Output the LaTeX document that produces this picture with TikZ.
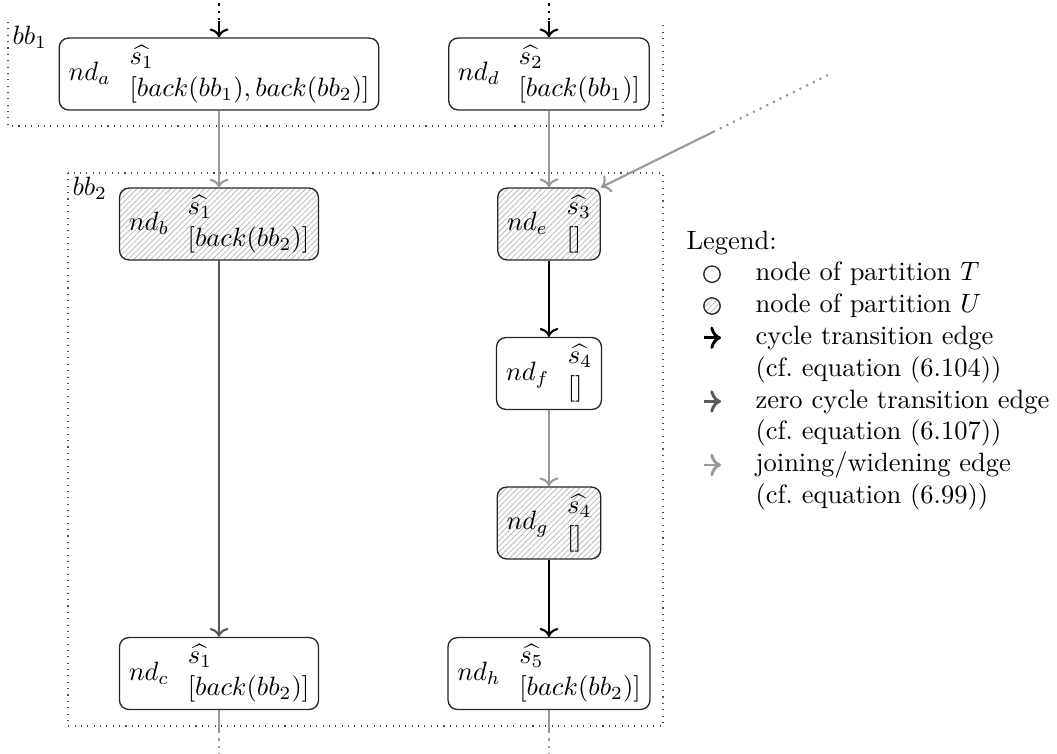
\documentclass[tikz,border=0pt]{standalone}
\usetikzlibrary{patterns.meta,arrows.meta}

% statement body: node name, state, list of back references
\newcommand{\ndbody}[3]{$#1\hspace{7pt}\vcenter{\hbox{$\widehat{#2}$}\hbox{$#3$}}$}

\tikzset{
  px/.style={x=0.3774pt,y=-0.3774pt},
  partT/.style={draw=black!85, line width=0.5pt, rounded corners=3.5pt,
                inner xsep=3.5pt, inner ysep=2.7pt},
  hatch/.style={pattern={Lines[angle=45,distance=1.5pt,line width=0.3pt]},
                pattern color=black!27},
  partU/.style={partT, hatch},
  cycedge/.style={draw=black, thick, ->},
  zeroedge/.style={draw=black!65, thick, ->},
  joinedge/.style={draw=black!40, thick, ->},
  contblack/.style={draw=black, thick, dotted},
  contgray/.style={draw=black!40, thick, dotted},
  frame/.style={draw=black!70, line width=0.4pt, dotted},
  legsym/.style={circle, draw=black!85, line width=0.5pt, minimum size=6.2pt, inner sep=0pt},
  legarrow/.style={line width=1.1pt},
  legtext/.style={anchor=base west, inner sep=0pt}
}

\begin{document}
\begin{tikzpicture}[px]
  \useasboundingbox (0,0) rectangle (1057,753);

  % basic blocks
  \draw[frame] (8,22) -- (8,126) -- (663,126) -- (663,22);
  \node[anchor=north west, inner sep=1.5pt] (bb1lab) at (8,22) {$bb_1$};
  \draw[frame] (68,173) rectangle (663,726);
  \node[anchor=north west, inner sep=1.5pt] (bb2lab) at (68,173) {$bb_2$};

  % nodes
  \node[partT] (nda) at (219,74)    {\ndbody{nd_a}{s_1}{[back(bb_1), back(bb_2)]}};
  \node[partT] (ndd) at (549,74)    {\ndbody{nd_d}{s_2}{[back(bb_1)]}};
  \node[partU] (ndb) at (219,224)   {\ndbody{nd_b}{s_1}{[back(bb_2)]}};
  \node[partU] (nde) at (549,224)   {\ndbody{nd_e}{s_3}{[]}};
  \node[partT] (ndf) at (549,373.5) {\ndbody{nd_f}{s_4}{[]}};
  \node[partU] (ndg) at (549,523)   {\ndbody{nd_g}{s_4}{[]}};
  \node[partT] (ndc) at (219,673.5) {\ndbody{nd_c}{s_1}{[back(bb_2)]}};
  \node[partT] (ndh) at (549,673.5) {\ndbody{nd_h}{s_5}{[back(bb_2)]}};

  % incoming and outgoing continuations
  \coordinate (inA1) at (219,-4);
  \coordinate (inA2) at (219,21);
  \coordinate (inD1) at (549,-4);
  \coordinate (inD2) at (549,21);
  \draw[contblack] (inA1) -- (inA2);
  \draw[cycedge] (inA2) -- (nda);
  \draw[contblack] (inD1) -- (inD2);
  \draw[cycedge] (inD2) -- (ndd);

  \coordinate (inE1) at (828,75);
  \coordinate (inE2) at (715,131);
  \draw[contgray] (inE1) -- (inE2);
  \draw[joinedge] (inE2) -- (nde.north east);

  \coordinate (outC1) at (219,731);
  \coordinate (outC2) at (219,757);
  \coordinate (outH1) at (549,731);
  \coordinate (outH2) at (549,757);
  \draw[draw=black!40, thick] (ndc) -- (outC1);
  \draw[contgray] (outC1) -- (outC2);
  \draw[draw=black!40, thick] (ndh) -- (outH1);
  \draw[contgray] (outH1) -- (outH2);

  % edges
  \draw[joinedge] (nda) -- (ndb);
  \draw[joinedge] (ndd) -- (nde);
  \draw[zeroedge] (ndb) -- (ndc);
  \draw[cycedge]  (nde) -- (ndf);
  \draw[joinedge] (ndf) -- (ndg);
  \draw[cycedge]  (ndg) -- (ndh);

  % legend
  \node[legtext] (legtitle) at (686,249) {Legend:};
  \node[legsym] (symT) at (712,274.2) {};
  \node[legtext] (legT) at (755,280.8) {node of partition $T$};
  \node[legsym, hatch] (symU) at (712,306) {};
  \node[legtext] (legU) at (755,312.6) {node of partition $U$};

  \coordinate (cyA) at (704,337.8);
  \coordinate (cyB) at (721,337.8);
  \draw[cycedge, legarrow] (cyA) -- (cyB);
  \node[legtext] (legcy) at (755,344.4) {cycle transition edge};
  \node[legtext] (legcyref) at (755,376.2) {(cf.\ equation (6.104))};

  \coordinate (zeA) at (704,401.4);
  \coordinate (zeB) at (721,401.4);
  \draw[zeroedge, legarrow] (zeA) -- (zeB);
  \node[legtext] (legze) at (755,408) {zero cycle transition edge};
  \node[legtext] (legzeref) at (755,439.8) {(cf.\ equation (6.107))};

  \coordinate (joA) at (704,465);
  \coordinate (joB) at (721,465);
  \draw[joinedge, legarrow] (joA) -- (joB);
  \node[legtext] (legjo) at (755,471.6) {joining/widening edge};
  \node[legtext] (legjoref) at (755,503.4) {(cf.\ equation (6.99))};
\end{tikzpicture}
\end{document}
